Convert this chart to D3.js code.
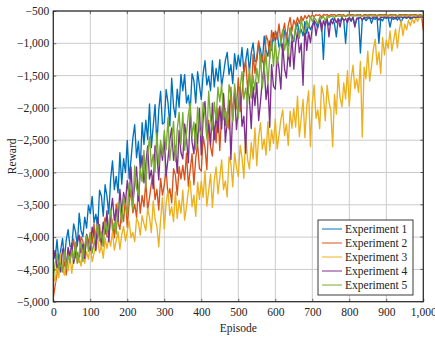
<!DOCTYPE html>
<html>
<head>
<meta charset="utf-8">
<script src="https://cdn.jsdelivr.net/npm/d3@7"></script>
<style>
  body { margin: 0; background: #fff; }
  text { font-family: "Liberation Serif", "DejaVu Serif", serif; fill: #222; }
</style>
</head>
<body>
<script>
// reward per episode, sampled every 5 episodes (0..1000)
const EP_STEP = 5;

const exp1 = [
  -4190,-4335,-4040,-4385,-4200,-4020,-4340,-4045,-3885,-4140,
  -4150,-3795,-3915,-4135,-3630,-3900,-3995,-3690,-3860,-3505,
  -3635,-3370,-3780,-3645,-3860,-3275,-3365,-3675,-3190,-3370,
  -3640,-3100,-2820,-3265,-3060,-3315,-2695,-3180,-2785,-3000,
  -2505,-3095,-2805,-2470,-2260,-2770,-2520,-2940,-2230,-2565,
  -2190,-2485,-1940,-2615,-2280,-1950,-2580,-2035,-1745,-2250,
  -2230,-1715,-1920,-2280,-1540,-1975,-2145,-1710,-1990,-1480,
  -1735,-1485,-1925,-1805,-2050,-1470,-1580,-1925,-1440,-1655,
  -1870,-1465,-1270,-1645,-1510,-1735,-1270,-1675,-1390,-1585,
  -1255,-1660,-1475,-1265,-1140,-1485,-1330,-1625,-1160,-1400,
  -1185,-1355,-1065,-1440,-1265,-1085,-1440,-1150,-995,-1280,
  -1270,-995,-1100,-1285,-890,-1115,-1200,-965,-1110,-835,
  -965,-825,-1060,-990,-1120,-800,-855,-1040,-770,-885,
  -975,-780,-685,-855,-785,-885,-660,-845,-705,-790,
  -720,-650,-690,-760,-630,-700,-1250,-660,-640,-720,
  -650,-610,-700,-900,-620,-660,-600,-640,-1000,-620,
  -610,-660,-600,-720,-630,-600,-1150,-640,-605,-650,
  -620,-600,-690,-610,-630,-600,-1000,-620,-650,-600,
  -615,-600,-750,-610,-630,-595,-640,-600,-680,-600,
  -600,-615,-590,-625,-600,-595,-610,-590,-600,-595,
  -595
];

const exp2 = [
  -4950,-4745,-4575,-4390,-4270,-4520,-4380,-4585,-4200,-4365,
  -4205,-4030,-4320,-4235,-4390,-3995,-4065,-4285,-3960,-4090,
  -3930,-4100,-3795,-4180,-3995,-3805,-4170,-3860,-3700,-3990,
  -4005,-3645,-3775,-4010,-3490,-3775,-3880,-3570,-3755,-3390,
  -3850,-3470,-3280,-3625,-3490,-3695,-3255,-3630,-3355,-3530,
  -3140,-3580,-3390,-3170,-3040,-3420,-3260,-3580,-3090,-3350,
  -3190,-2960,-3360,-3250,-3470,-2940,-3040,-3350,-2910,-3100,
  -2890,-3115,-2700,-3215,-2960,-2710,-3190,-2775,-2555,-2940,
  -2980,-2440,-2620,-2955,-2190,-2600,-2745,-2285,-2540,-2005,
  -2660,-2090,-1800,-2270,-2060,-2330,-1680,-2190,-1780,-2010,
  -1535,-2055,-1775,-1460,-1260,-1700,-1460,-1830,-1170,-1465,
  -1195,-965,-1320,-1200,-1390,-880,-955,-1230,-800,-965,
  -810,-935,-700,-985,-840,-690,-960,-725,-600,-810,
  -640,-720,-600,-690,-580,-650,-570,-620,-565,-600,
  -560,-590,-555,-570,-555,-600,-555,-565,-555,-580,
  -555,-560,-555,-575,-555,-555,-565,-555,-590,-555,
  -560,-555,-555,-570,-555,-560,-555,-580,-555,-555,
  -565,-555,-555,-560,-555,-575,-555,-555,-560,-555,
  -555,-570,-555,-555,-560,-555,-585,-555,-555,-560,
  -555,-555,-565,-555,-560,-555,-555,-570,-555,-560,
  -800
];

const exp3 = [
  -4570,-4700,-4430,-4630,-4250,-4490,-4590,-4370,-4520,-4280,
  -4560,-4315,-4190,-4410,-4320,-4450,-4165,-4405,-4225,-4340,
  -4125,-4380,-4255,-4115,-4030,-4245,-4140,-4325,-4020,-4175,
  -4010,-4140,-3910,-4200,-4060,-3915,-4190,-3960,-3835,-4060,
  -3910,-3750,-4010,-3930,-4070,-3710,-3770,-3970,-3670,-3790,
  -3900,-3560,-3695,-3930,-3440,-3725,-3835,-4150,-3730,-3390,
  -3870,-3470,-3280,-3660,-3530,-3760,-3300,-3710,-3430,-3630,
  -3275,-3735,-3525,-3280,-3130,-3530,-3350,-3680,-3150,-3415,
  -3135,-3385,-2975,-3520,-3275,-3025,-3540,-3130,-2915,-3330,
  -3080,-2805,-3265,-3130,-3380,-2755,-2865,-3220,-2700,-2915,
  -3060,-2580,-2765,-3090,-2400,-2795,-2945,-2535,-2790,-2310,
  -2895,-2450,-2230,-2640,-2485,-2730,-2215,-2660,-2340,-2550,
  -2175,-2635,-2425,-2180,-2030,-2430,-2250,-2580,-2050,-2315,
  -2010,-2295,-1820,-2445,-2160,-1870,-2460,-1985,-1735,-2600,
  -1925,-1645,-2160,-2030,-2320,-1660,-1795,-2200,-1650,-1905,
  -2040,-2600,-1790,-2095,-1470,-1840,-1985,-1615,-1860,-1425,
  -1970,-1550,-1340,-1700,-1550,-1760,-1280,-2450,-1370,-1550,
  -1120,-1585,-1355,-1095,-935,-1330,-1135,-1470,-910,-1180,
  -950,-1080,-810,-1120,-950,-780,-1070,-800,-650,-880,
  -700,-790,-640,-730,-620,-690,-600,-660,-580,-610,
  -560
];

const exp4 = [
  -4360,-4205,-4470,-4395,-4540,-4185,-4250,-4455,-4160,-4290,
  -4095,-4405,-4255,-4080,-3970,-4240,-4110,-4330,-3960,-4135,
  -4205,-3845,-3975,-4210,-3690,-3975,-4080,-3770,-3955,-3590,
  -4070,-3630,-3400,-3740,-3570,-3760,-3260,-3630,-3310,-3470,
  -3125,-3370,-2915,-3475,-3195,-2915,-3440,-2985,-2740,-3160,
  -2875,-2590,-3100,-2965,-3250,-2585,-2715,-3115,-2560,-2810,
  -2470,-3050,-2790,-2490,-2310,-2810,-2590,-3010,-2350,-2690,
  -2790,-2250,-2470,-2850,-2070,-2530,-2710,-2250,-2550,-2010,
  -2730,-2165,-1900,-2430,-2250,-2570,-1925,-2495,-2105,-2385,
  -1975,-2325,-1775,-2530,-2205,-1880,-2800,-2040,-1760,-2335,
  -2010,-1675,-2285,-2130,-2700,-1685,-1845,-2320,-1670,-1965,
  -1605,-2195,-1905,-1570,-1360,-1870,-1620,-2300,-1330,-1665,
  -1710,-1220,-1395,-1710,-1010,-1395,-1535,-1115,-1360,-870,
  -1400,-1010,-810,-1145,-1000,-1650,-745,-1110,-825,-990,
  -760,-640,-880,-700,-620,-810,-650,-730,-610,-900,
  -640,-700,-610,-680,-620,-750,-600,-650,-620,-680,
  -600,-640,-595,-750,-610,-620,-595,-640,-600,-610,
  -590,-600,-620,-590,-600,-590,-640,-595,-600,-590,
  -600,-590,-610,-590,-600,-620,-590,-600,-590,-605,
  -590,-600,-590,-595,-610,-590,-600,-590,-595,-590,
  -590
];

const exp5 = [
  -4660,-4400,-4260,-4500,-4400,-4540,-4220,-4480,-4280,-4400,
  -4200,-4340,-4080,-4400,-4240,-4080,-4380,-4120,-3980,-4220,
  -3945,-4250,-4090,-3910,-3800,-4060,-3920,-4140,-3760,-3930,
  -3800,-3575,-3900,-3780,-3950,-3470,-3530,-3780,-3375,-3515,
  -3650,-3165,-3305,-3580,-2900,-3240,-3350,-2935,-3140,-2660,
  -3240,-2715,-2450,-2910,-2720,-2990,-2385,-2885,-2505,-2735,
  -2350,-2650,-2150,-2810,-2510,-2210,-2830,-2330,-2070,-2570,
  -2070,-2655,-2400,-2105,-1930,-2435,-2220,-2645,-1990,-2335,
  -2430,-1915,-2120,-2480,-1740,-2175,-2345,-1910,-2190,-1680,
  -1905,-1630,-2180,-2010,-2300,-1640,-1810,-2220,-1630,-1890,
  -2165,-1680,-1440,-1865,-1695,-1945,-1390,-1850,-1505,-1720,
  -1385,-1610,-1175,-1695,-1425,-1150,-1640,-1205,-965,-1355,
  -970,-1330,-1140,-930,-795,-1105,-945,-1200,-755,-960,
  -940,-725,-795,-925,-620,-780,-835,-650,-750,-585,
  -660,-600,-640,-700,-590,-620,-580,-650,-580,-600,
  -585,-575,-600,-575,-580,-575,-590,-572,-578,-575,
  -575,-572,-578,-575,-570,-576,-575,-572,-578,-574,
  -576,-572,-575,-578,-571,-575,-573,-577,-572,-575,
  -574,-578,-572,-575,-576,-571,-575,-578,-573,-575,
  -572,-576,-574,-571,-575,-578,-572,-575,-574,-576,
  -575
];

const seriesNames = ["Experiment 1", "Experiment 2", "Experiment 3", "Experiment 4", "Experiment 5"];
const seriesColors = ["#0072bd", "#d95319", "#edb120", "#7e2f8e", "#77ac30"];
const xTicks = [0, 100, 200, 300, 400, 500, 600, 700, 800, 900, 1000];
const yTicks = [-5000, -4500, -4000, -3500, -3000, -2500, -2000, -1500, -1000, -500];

const width = 435;
const height = 337;
const margin = { top: 11, right: 11.7, bottom: 35.3, left: 53.3 };
const FONT = 11.5;

const x = d3.scaleLinear().domain([0, 1000]).range([margin.left, width - margin.right]);
const y = d3.scaleLinear().domain([-5000, -500]).range([height - margin.bottom, margin.top]);

const svg = d3.select("body").append("svg")
  .attr("width", width)
  .attr("height", height);

svg.append("defs").append("clipPath").attr("id", "plot-clip")
  .append("rect")
  .attr("x", x(0)).attr("y", y(-500))
  .attr("width", x(1000) - x(0)).attr("height", y(-5000) - y(-500));

// grid
const grid = svg.append("g").attr("stroke", "#cbcbcb").attr("stroke-width", 1);
grid.selectAll(".gx").data(xTicks).join("line")
  .attr("x1", d => x(d)).attr("x2", d => x(d))
  .attr("y1", y(-500)).attr("y2", y(-5000));
grid.selectAll(".gy").data(yTicks).join("line")
  .attr("x1", x(0)).attr("x2", x(1000))
  .attr("y1", d => y(d)).attr("y2", d => y(d));

// lines
const data = [exp1, exp2, exp3, exp4, exp5];
const line = d3.line()
  .x((d, i) => x(i * EP_STEP))
  .y(d => y(d));

svg.append("g").attr("clip-path", "url(#plot-clip)")
  .selectAll("path").data(data).join("path")
  .attr("d", line)
  .attr("fill", "none")
  .attr("stroke", (d, i) => seriesColors[i])
  .attr("stroke-width", 1.35)
  .attr("stroke-linejoin", "round");

// axes (inward ticks, pgfplots style)
const yAxis = svg.append("g")
  .attr("transform", `translate(${x(0)},0)`)
  .call(d3.axisLeft(y).tickValues(yTicks).tickFormat(d3.format(",")).tickSize(-3).tickPadding(4));
const xAxis = svg.append("g")
  .attr("transform", `translate(0,${y(-5000)})`)
  .call(d3.axisBottom(x).tickValues(xTicks).tickFormat(d3.format(",")).tickSize(-3).tickPadding(6));
for (const g of [yAxis, xAxis]) {
  g.select(".domain").remove();
  g.selectAll(".tick line").attr("stroke", "#333").attr("stroke-width", 0.7);
  g.selectAll("text").style("font-size", FONT + "px")
    .style("font-family", "'Liberation Serif', serif").attr("fill", "#222");
}
// mirrored ticks on top and right
svg.append("g").selectAll("line").data(xTicks).join("line")
  .attr("x1", d => x(d)).attr("x2", d => x(d))
  .attr("y1", y(-500)).attr("y2", y(-500) + 3)
  .attr("stroke", "#333").attr("stroke-width", 0.7);
svg.append("g").selectAll("line").data(yTicks).join("line")
  .attr("x1", x(1000) - 3).attr("x2", x(1000))
  .attr("y1", d => y(d)).attr("y2", d => y(d))
  .attr("stroke", "#333").attr("stroke-width", 0.7);

// frame
svg.append("rect")
  .attr("x", x(0)).attr("y", y(-500))
  .attr("width", x(1000) - x(0)).attr("height", y(-5000) - y(-500))
  .attr("fill", "none").attr("stroke", "#262626").attr("stroke-width", 1.2);

// axis titles
svg.append("text")
  .attr("x", (x(0) + x(1000)) / 2).attr("y", 332)
  .attr("text-anchor", "middle").style("font-size", FONT + "px")
  .text("Episode");
svg.append("text")
  .attr("transform", `translate(16,${(y(-500) + y(-5000)) / 2}) rotate(-90)`)
  .attr("text-anchor", "middle").style("font-size", FONT + "px")
  .text("Reward");

// legend
const legend = svg.append("g").attr("transform", "translate(318,220)");
legend.append("rect")
  .attr("width", 95).attr("height", 75)
  .attr("fill", "#fff").attr("stroke", "#262626").attr("stroke-width", 0.9);
const items = legend.selectAll("g").data(seriesNames).join("g")
  .attr("transform", (d, i) => `translate(0,${9 + i * 14})`);
items.append("line")
  .attr("x1", 4).attr("x2", 24)
  .attr("stroke", (d, i) => seriesColors[i]).attr("stroke-width", 1);
items.append("text")
  .attr("x", 27).attr("dy", "0.35em")
  .style("font-size", FONT + "px")
  .text(d => d);
</script>
</body>
</html>
